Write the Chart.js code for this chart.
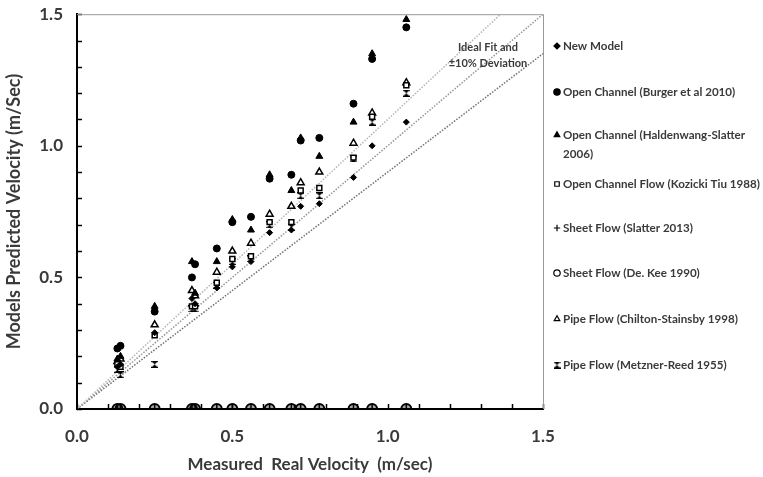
<!DOCTYPE html>
<html lang="en">
<head>
    <meta charset="UTF-8">
    <title>Models Predicted vs Measured Velocity</title>
    <script src="https://cdn.jsdelivr.net/npm/chart.js"></script>
    <style>
        body { margin: 0; background: #fff; }
        .container { width: 763px; height: 477px; position: relative; }
    </style>
</head>
<body>
    <div class="container">
        <canvas id="scatterChart"></canvas>
    </div>

    <script>
        // measured real velocity (m/sec), shared by every model
        const measured   = [0.13, 0.14, 0.25, 0.37, 0.38, 0.45, 0.50, 0.56, 0.62, 0.69, 0.72, 0.78, 0.89, 0.95, 1.06];

        // predicted velocity per model (m/sec)
        const newModel   = [0.16, 0.17, 0.29, 0.42, 0.40, 0.46, 0.54, 0.56, 0.67, 0.68, 0.77, 0.78, 0.88, 1.00, 1.09];
        const burger     = [0.23, 0.24, 0.37, 0.50, 0.55, 0.61, 0.71, 0.73, 0.875, 0.89, 1.02, 1.03, 1.16, 1.33, 1.45];
        const haldenwang = [0.19, 0.20, 0.39, 0.56, 0.44, 0.56, 0.72, 0.68, 0.89, 0.83, 1.03, 0.96, 1.09, 1.35, 1.48];
        const kozicki    = [0.17, 0.16, 0.28, 0.39, 0.39, 0.48, 0.57, 0.58, 0.71, 0.71, 0.83, 0.84, 0.955, 1.11, 1.23];
        const slatter    = [0, 0, 0, 0, 0, 0, 0, 0, 0, 0, 0, 0, 0, 0, 0];
        const deKee      = [0, 0, 0, 0, 0, 0, 0, 0, 0, 0, 0, 0, 0, 0, 0];
        const chilton    = [0.18, 0.19, 0.32, 0.45, 0.43, 0.52, 0.60, 0.63, 0.74, 0.77, 0.86, 0.90, 1.01, 1.125, 1.24];
        const metzner    = [0.15, 0.13, 0.17, 0.38, 0.38, 0.47, 0.56, 0.57, 0.70, 0.69, 0.81, 0.81, 0.95, 1.09, 1.20];

        // ideal fit and +/-10% lines
        const fitX      = [0, 1.5];
        const fitIdeal  = [0, 1.5];
        const fitPlus   = [0, 1.65];
        const fitMinus  = [0, 1.35];

        const seriesNames = [
            'New Model',
            'Open Channel (Burger et al 2010)',
            'Open Channel (Haldenwang-Slatter\n2006)',
            'Open Channel Flow (Kozicki Tiu 1988)',
            'Sheet Flow (Slatter 2013)',
            'Sheet Flow (De. Kee 1990)',
            'Pipe Flow (Chilton-Stainsby 1998)',
            'Pipe Flow (Metzner-Reed 1955)'
        ];
        const tickValues = [0, 0.5, 1.0, 1.5];

        const textColor = '#3a3a3a';
        const fontFamily = 'Lato, "Open Sans", sans-serif';

        function toPoints(xs, ys) {
            return xs.map((x, i) => ({ x: x, y: ys[i] }));
        }

        // hourglass marker for Metzner-Reed
        function hourglass() {
            const c = document.createElement('canvas');
            c.width = 7; c.height = 7;
            const g = c.getContext('2d');
            g.fillStyle = '#000';
            g.beginPath();
            g.moveTo(0.5, 0.5); g.lineTo(6.5, 0.5); g.lineTo(3.5, 3.5); g.closePath();
            g.moveTo(0.5, 6.5); g.lineTo(6.5, 6.5); g.lineTo(3.5, 3.5); g.closePath();
            g.fill();
            g.fillRect(0, 0, 7, 1.2);
            g.fillRect(0, 5.8, 7, 1.2);
            return c;
        }
        const hourglassImg = hourglass();

        function pointSet(name, ys, style) {
            return Object.assign({
                label: name.replace('\n', ' '),
                legendText: name,
                data: toPoints(measured, ys),
                showLine: false,
                order: 0,
                pointBorderColor: '#000',
                pointBackgroundColor: '#000',
                pointBorderWidth: 1
            }, style);
        }

        function fitLine(ys, color) {
            return {
                label: '',
                isFit: true,
                data: toPoints(fitX, ys),
                showLine: true,
                pointRadius: 0,
                borderColor: color,
                borderWidth: 1.5,
                borderDash: [1.5, 1.5],
                order: 10
            };
        }

        const datasets = [
            pointSet(seriesNames[0], newModel,   { pointStyle: 'rectRot', pointRadius: 3 }),
            pointSet(seriesNames[1], burger,     { pointStyle: 'circle', pointRadius: 3.5 }),
            pointSet(seriesNames[2], haldenwang, { pointStyle: 'triangle', pointRadius: 4 }),
            pointSet(seriesNames[3], kozicki,    { pointStyle: 'rect', pointRadius: 3.5, pointBackgroundColor: '#fff', pointBorderWidth: 1.5 }),
            pointSet(seriesNames[4], slatter,    { pointStyle: 'cross', pointRadius: 4, pointBorderWidth: 1.5 }),
            pointSet(seriesNames[5], deKee,      { pointStyle: 'circle', pointRadius: 5, pointBackgroundColor: 'rgba(0,0,0,0.35)', pointBorderWidth: 2 }),
            pointSet(seriesNames[6], chilton,    { pointStyle: 'triangle', pointRadius: 4, pointBackgroundColor: '#fff', pointBorderWidth: 1.5 }),
            pointSet(seriesNames[7], metzner,    { pointStyle: hourglassImg, pointRadius: 3.5 }),
            fitLine(fitPlus, '#b5b5b5'),
            fitLine(fitIdeal, '#959595'),
            fitLine(fitMinus, '#707070')
        ];

        // minor ticks inside the axes, grey frame top/right, legend and the fit note
        const decorations = {
            id: 'decorations',
            afterDatasetsDraw(chart) {
                const ctx = chart.ctx;
                const a = chart.chartArea;
                const xs = chart.scales.x, ys = chart.scales.y;
                ctx.save();
                ctx.strokeStyle = '#000';
                ctx.lineWidth = 1.5;
                ys.ticks.forEach(t => {
                    const y = Math.round(ys.getPixelForValue(t.value)) + 0.5;
                    ctx.beginPath(); ctx.moveTo(a.left, y); ctx.lineTo(a.left + 5, y); ctx.stroke();
                });
                xs.ticks.forEach(t => {
                    const x = Math.round(xs.getPixelForValue(t.value)) + 0.5;
                    ctx.beginPath(); ctx.moveTo(x, a.bottom); ctx.lineTo(x, a.bottom - 5); ctx.stroke();
                });

                ctx.strokeStyle = '#9a9a9a';
                ctx.lineWidth = 1;
                ctx.beginPath();
                ctx.moveTo(a.left, a.top + 0.5); ctx.lineTo(a.right + 0.5, a.top + 0.5);
                ctx.lineTo(a.right + 0.5, a.bottom);
                ctx.stroke();

                // note next to the fit lines
                ctx.fillStyle = textColor;
                ctx.font = 'bold 11px ' + fontFamily;
                ctx.textAlign = 'center';
                ctx.textBaseline = 'middle';
                ctx.fillText('Ideal Fit and', 488, 47);
                ctx.fillText('\u00B110% Deviation', 488, 63);

                // legend
                const legendY = [46, 92, 135, 184, 228, 273, 319, 365];
                ctx.font = 'bold 11.6px ' + fontFamily;
                ctx.textAlign = 'left';
                let k = 0;
                chart.data.datasets.forEach(ds => {
                    if (ds.isFit) return;
                    const y = legendY[k++];
                    ctx.fillStyle = ds.pointStyle === 'circle' && ds.pointRadius > 4 ? '#fff' : ds.pointBackgroundColor;
                    ctx.strokeStyle = ds.pointBorderColor;
                    ctx.lineWidth = 1.2;
                    Chart.helpers.drawPoint(ctx, {
                        pointStyle: ds.pointStyle,
                        radius: Math.min(ds.pointRadius, 3.2),
                        rotation: 0,
                        borderWidth: 1.2
                    }, 557, y);
                    ctx.fillStyle = textColor;
                    ds.legendText.split('\n').forEach((line, j) => {
                        ctx.fillText(line, 563, y + j * 19);
                    });
                });
                ctx.restore();
            }
        };

        const ctx = document.getElementById('scatterChart').getContext('2d');
        new Chart(ctx, {
            type: 'scatter',
            data: { datasets: datasets },
            options: {
                responsive: true,
                maintainAspectRatio: false,
                animation: false,
                layout: { padding: { top: 14, right: 220, left: 0, bottom: 0 } },
                plugins: { legend: { display: false }, tooltip: { enabled: false } },
                scales: {
                    x: {
                        type: 'linear',
                        min: 0, max: 1.5,
                        afterFit: s => { s.height = 68; },
                        grid: { display: false, drawTicks: false },
                        border: { display: true, color: '#000', width: 2 },
                        ticks: {
                            stepSize: 0.1,
                            autoSkip: false,
                            maxRotation: 0,
                            padding: 17,
                            color: textColor,
                            font: { family: fontFamily, size: 17, weight: 'bold' },
                            callback: v => tickValues.some(t => Math.abs(t - v) < 1e-6) ? v.toFixed(1) : ''
                        },
                        title: {
                            display: true,
                            text: 'Measured  Real Velocity  (m/sec)',
                            color: textColor,
                            font: { family: fontFamily, size: 17, weight: 'bold' },
                            padding: { top: 0, bottom: 2 }
                        }
                    },
                    y: {
                        type: 'linear',
                        min: 0, max: 1.5,
                        afterFit: s => { s.width = 77; },
                        grid: {
                            display: true,
                            drawOnChartArea: false,
                            drawTicks: true,
                            tickLength: 10,
                            tickColor: 'rgba(0,0,0,0)'
                        },
                        border: { display: true, color: '#000', width: 2 },
                        ticks: {
                            stepSize: 0.1,
                            autoSkip: false,
                            padding: 4,
                            color: textColor,
                            font: { family: fontFamily, size: 17, weight: 'bold' },
                            callback: v => tickValues.some(t => Math.abs(t - v) < 1e-6) ? v.toFixed(1) : ''
                        },
                        title: {
                            display: true,
                            text: 'Models Predicted Velocity (m/Sec)',
                            color: textColor,
                            font: { family: fontFamily, size: 18, weight: 'bold' },
                            padding: { top: 3, bottom: 0 }
                        }
                    }
                }
            },
            plugins: [decorations]
        });
    </script>
</body>
</html>
